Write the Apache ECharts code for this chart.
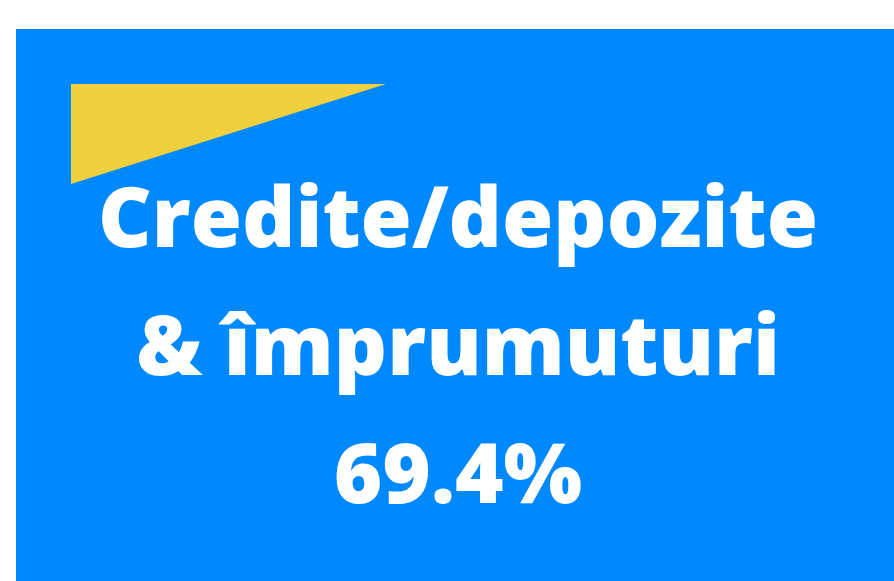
<!DOCTYPE html>
<html>
<head>
<meta charset="utf-8">
<script src="https://cdn.jsdelivr.net/npm/echarts@6/dist/echarts.min.js"></script>
<style>
  html, body { margin: 0; padding: 0; background: #fff; }
  #chart { width: 894px; height: 581px; }
</style>
</head>
<body>
<div id="chart"></div>
<script>
// date
const names = ['Credite/depozite\n& împrumuturi'];
const values = [69.4];
// triunghiul galben (colturi, in unitatile axelor ascunse)
const triX = [71, 386, 71];
const triY = [84, 84, 184];

const chart = echarts.init(document.getElementById('chart'));

chart.setOption({
  animation: false,
  color: ['#0088ff'],
  // axe ascunse doar pentru triunghi
  grid: { left: 0, right: 0, top: 0, bottom: 0 },
  xAxis: { type: 'value', min: 0, max: 894, show: false },
  yAxis: { type: 'value', min: 0, max: 581, inverse: true, show: false },
  series: [
    {
      type: 'treemap',
      left: 16,
      top: 29,
      right: 0,
      bottom: 0,
      roam: false,
      nodeClick: false,
      breadcrumb: { show: false },
      itemStyle: { borderWidth: 0, gapWidth: 0 },
      label: {
        show: true,
        position: 'inside',
        align: 'center',
        verticalAlign: 'middle',
        offset: [3, 46],
        color: '#fff',
        fontFamily: 'Open Sans',
        fontWeight: 800,
        fontSize: 83,
        lineHeight: 128,
        formatter: function (p) {
          return p.name + '\n' + p.value + '%';
        }
      },
      data: names.map((n, i) => ({
        name: n,
        value: values[i],
        itemStyle: { color: '#0088ff' }
      }))
    },
    {
      type: 'custom',
      z: 5,
      data: triX.map((x, i) => [x, triY[i]]),
      renderItem: function (params, api) {
        if (params.dataIndex !== 0) return;
        const pts = triX.map((x, i) => api.coord([x, triY[i]]));
        return {
          type: 'polygon',
          shape: { points: pts },
          style: { fill: '#f0d03f' }
        };
      }
    }
  ]
});
</script>
</body>
</html>
